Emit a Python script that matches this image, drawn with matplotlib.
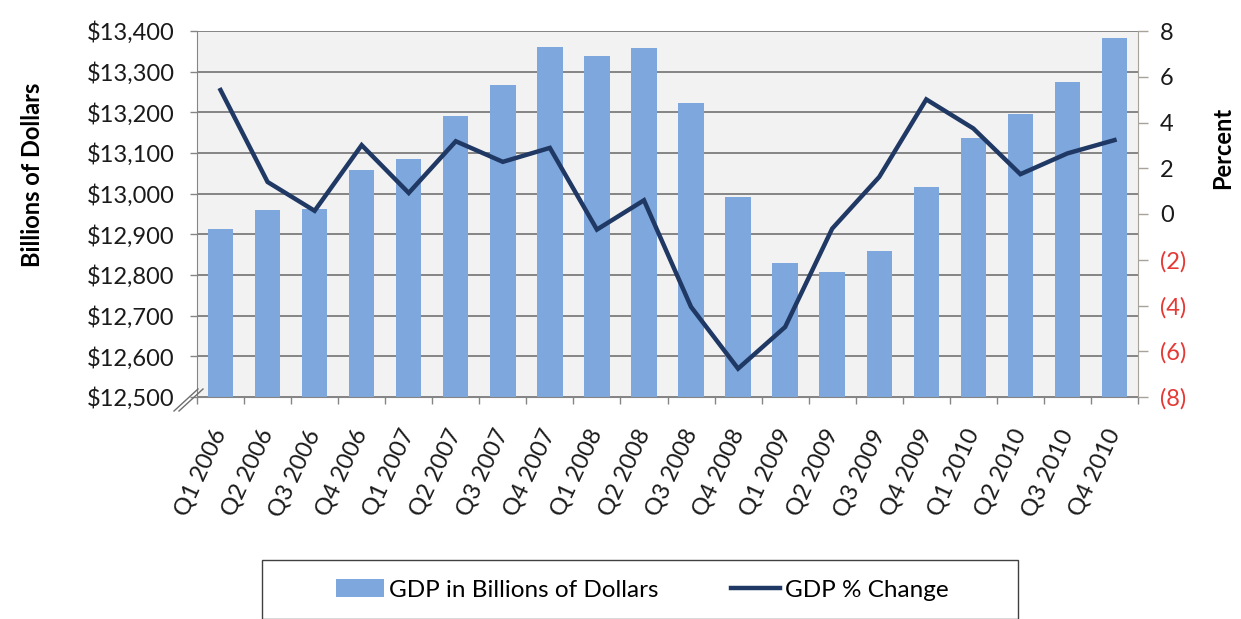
import matplotlib
matplotlib.use('Agg')
import matplotlib.pyplot as plt
from matplotlib.patches import Rectangle
from matplotlib.lines import Line2D
from matplotlib.ticker import FuncFormatter

quarters = ['Q1 2006', 'Q2 2006', 'Q3 2006', 'Q4 2006',
            'Q1 2007', 'Q2 2007', 'Q3 2007', 'Q4 2007',
            'Q1 2008', 'Q2 2008', 'Q3 2008', 'Q4 2008',
            'Q1 2009', 'Q2 2009', 'Q3 2009', 'Q4 2009',
            'Q1 2010', 'Q2 2010', 'Q3 2010', 'Q4 2010']
gdp_billions = [12914, 12961, 12963, 13057, 13086, 13192, 13266, 13361,
                13339, 13357, 13224, 12992, 12830, 12808, 12858, 13016,
                13137, 13195, 13275, 13382]
gdp_pct_change = [5.42, 1.40, 0.14, 3.01, 0.92, 3.18, 2.28, 2.89,
                  -0.68, 0.60, -4.06, -6.76, -4.94, -0.64, 1.62, 5.01,
                  3.74, 1.74, 2.65, 3.23]
left_ticks = list(range(12500, 13401, 100))
right_ticks = list(range(-8, 9, 2))

bar_color = '#7DA7DD'
line_color = '#1F3864'
grid_color = '#858585'
neg_color = '#E53935'

plt.rcParams['font.family'] = ['Lato', 'DejaVu Sans']

W, H = 1241, 619
fig = plt.figure(figsize=(W / 100, H / 100), dpi=100)
fig.patch.set_facecolor('white')

# plot area in pixels: left 197, right 1138, top 31, bottom 397
ax = fig.add_axes([197 / W, 1 - 397 / H, (1138 - 197) / W, (397 - 31) / H])
ax.set_facecolor('#F2F2F2')
ax.set_axisbelow(True)

x = list(range(len(quarters)))
ax.bar(x, gdp_billions, width=0.54, color=bar_color, zorder=2,
       label='GDP in Billions of Dollars')
ax.set_xlim(-0.5, len(quarters) - 0.5)
ax.set_ylim(12500, 13400)
ax.set_yticks(left_ticks)
ax.yaxis.set_major_formatter(FuncFormatter(lambda v, p: '${:,.0f}'.format(v)))
ax.grid(axis='y', color=grid_color, linewidth=1.4)
ax.tick_params(axis='y', length=5, width=1, color=grid_color, pad=11,
               labelsize=17, labelcolor='#1a1a1a')

ax.set_xticks(x)
ax.set_xticklabels(quarters, rotation=65, ha='right', va='center',
                   rotation_mode='anchor')
ax.set_xticks([i - 0.5 for i in range(len(quarters) + 1)], minor=True)
ax.tick_params(axis='x', which='major', length=0, pad=24, labelsize=17,
               labelcolor='#1a1a1a')
ax.tick_params(axis='x', which='minor', length=5, width=1, color=grid_color)

for side in ['top', 'right']:
    ax.spines[side].set_visible(False)
ax.spines['left'].set_color(grid_color)
ax.spines['bottom'].set_color(grid_color)

# secondary axis for percent change
ax2 = ax.twinx()
ax2.plot(x, gdp_pct_change, color=line_color, linewidth=3.2,
         solid_joinstyle='miter', label='GDP % Change', zorder=3)
ax2.set_ylim(-8, 8)
ax2.set_yticks(right_ticks)
ax2.set_yticklabels([str(v) if v >= 0 else '({})'.format(-v)
                     for v in right_ticks])
ax2.tick_params(axis='y', length=7, width=1, color='#A8A39A', pad=9,
                labelsize=17)
for v, lbl in zip(right_ticks, ax2.get_yticklabels()):
    lbl.set_color(neg_color if v < 0 else '#1a1a1a')
for side in ['top', 'left', 'bottom']:
    ax2.spines[side].set_visible(False)
ax2.spines['right'].set_color('#A8A39A')

# axis break marks at the bottom left corner
x0, y0 = 197, H - 397
for dx in (-5, 0):
    fig.add_artist(Line2D([(x0 - 18 + dx) / W, (x0 + 6 + dx) / W],
                          [(y0 - 14) / H, (y0 + 8) / H],
                          color='#6e6e6e', linewidth=1.0, zorder=5))

fig.text(33 / W, 1 - 175 / H, 'Billions of Dollars', rotation=90,
         ha='center', va='center', fontsize=17, fontweight='bold')
fig.text(1223 / W, 1 - 148 / H, 'Percent', rotation=90,
         ha='center', va='center', fontsize=17, fontweight='bold')

# legend frame and entries
fig.add_artist(Rectangle((262 / W, 0.5 / H), (1018 - 262) / W, 59 / H,
                         transform=fig.transFigure, facecolor='white',
                         edgecolor='#404040', linewidth=1.0))
h1, l1 = ax.get_legend_handles_labels()
h2, l2 = ax2.get_legend_handles_labels()
fig.legend(h1 + h2, l1 + l2, loc='center', ncol=2,
           bbox_to_anchor=(642 / W, 1 - 590 / H), frameon=False,
           fontsize=17.5, handlelength=2.0, handletextpad=0.2,
           columnspacing=3.0)

fig.savefig('out.png', dpi=100)
